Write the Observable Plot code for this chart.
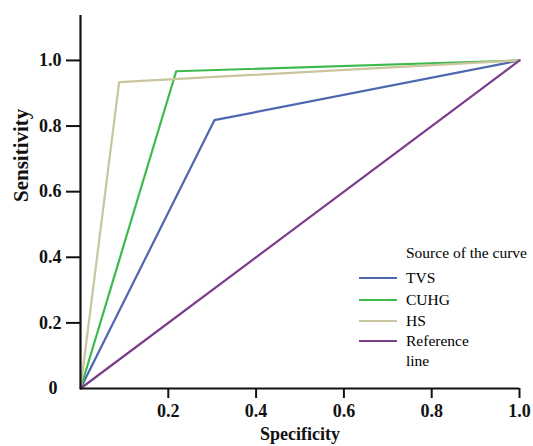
<!DOCTYPE html>
<html><head><meta charset="utf-8">
<script src="https://cdn.jsdelivr.net/npm/d3@7"></script>
<script src="https://cdn.jsdelivr.net/npm/@observablehq/plot@0.6"></script>
<style>
body{margin:0;background:#fff;}
#wrap{position:relative;width:533px;height:446px;overflow:hidden;font-family:"Liberation Serif","Times New Roman",serif;}
#legend{position:absolute;left:359px;top:244px;font-size:15.5px;color:#000;}
#legend .ttl{position:absolute;left:47px;top:0;white-space:nowrap;}
#legend .sw{position:absolute;left:0;width:38px;height:0;border-top:2.5px solid;}
#legend .lb{position:absolute;left:47px;line-height:20px;white-space:nowrap;}
</style></head><body>
<div id="wrap"></div>
<script>
const series = ["TVS", "CUHG", "HS", "Reference line"];
const colors = ["#4c67b0", "#3dba4c", "#c9c59c", "#7a3f8a"];
const specTVS = [0, 0.305, 1];  const sensTVS = [0, 0.818, 1];
const specCUHG = [0, 0.218, 1]; const sensCUHG = [0, 0.967, 1];
const specHS = [0, 0.088, 1];   const sensHS = [0, 0.934, 1];
const specRef = [0, 1];         const sensRef = [0, 1];
const xTicks = [0.2, 0.4, 0.6, 0.8, 1.0];
const yTicks = [0.2, 0.4, 0.6, 0.8, 1.0];

const rows = [];
[[specTVS, sensTVS], [specCUHG, sensCUHG], [specHS, sensHS], [specRef, sensRef]].forEach(([xs, ys], i) => {
  xs.forEach((x, j) => rows.push({series: series[i], x, y: ys[j]}));
});

const chart = Plot.plot({
  width: 533, height: 446,
  marginLeft: 80, marginRight: 14, marginTop: 15, marginBottom: 58,
  style: {fontFamily: "Liberation Serif, Times New Roman, serif", fontSize: "18px", color: "#111", background: "#fff"},
  x: {domain: [0, 1]},
  y: {domain: [0, 1.137]},
  color: {domain: series, range: colors},
  marks: [
    Plot.line(rows, {x: "x", y: "y", z: "series", stroke: "series", strokeWidth: 2.2}),
    Plot.ruleY([0], {x1: 0, x2: 1, stroke: "#111", strokeWidth: 2.2}),
    Plot.ruleX([0], {y1: 0, y2: 1.137, stroke: "#111", strokeWidth: 2.2}),
    Plot.axisX({ticks: xTicks, tickSize: 10, tickPadding: 6, strokeWidth: 2, tickFormat: d3.format(".1f"), label: null, fontSize: 18, fontWeight: "bold"}),
    Plot.axisY({ticks: yTicks, tickSize: 14, tickPadding: 5, strokeWidth: 2, tickFormat: d3.format(".1f"), label: null, fontSize: 18, fontWeight: "bold"}),
    Plot.axisY({ticks: [0], tickSize: 0, tickPadding: 23, tickFormat: d => "0", label: null, fontSize: 18, fontWeight: "bold"}),
    Plot.text(["Specificity"], {frameAnchor: "bottom", dy: 51, fontSize: 18, fontWeight: "bold"}),
    Plot.text(["Sensitivity"], {frameAnchor: "left", dx: -59, rotate: -90, fontSize: 21, fontWeight: "bold"})
  ]
});
const wrap = document.getElementById("wrap");
wrap.appendChild(chart);

const lg = document.createElement("div");
lg.id = "legend";
let html = `<div class="ttl">Source of the curve</div>`;
const tops = [24, 46, 67, 87];
series.forEach((s, i) => {
  const label = s === "Reference line" ? "Reference<br>line" : s;
  html += `<div class="sw" style="top:${tops[i] + 9}px;border-color:${colors[i]}"></div>`;
  html += `<div class="lb" style="top:${tops[i]}px">${label}</div>`;
});
lg.innerHTML = html;
wrap.appendChild(lg);
</script>
</body></html>
